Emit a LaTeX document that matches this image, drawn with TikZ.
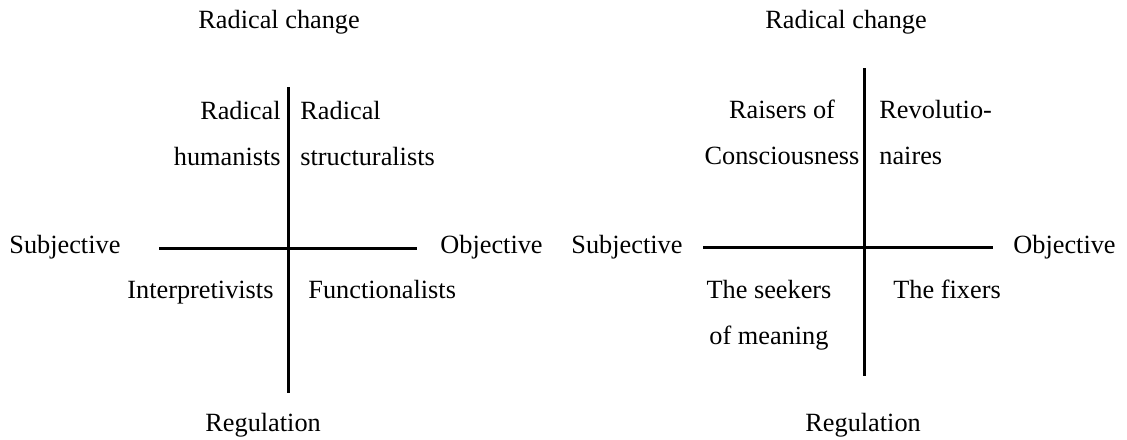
\documentclass[tikz,border=0pt]{standalone}
\usepackage{fontspec}
\setmainfont{Liberation Serif}
\usepackage{tikz}

\begin{document}
\begin{tikzpicture}[x=0.5pt, y=-0.5pt, font=\fontsize{13.15pt}{23pt}\selectfont,
 lbl/.style={inner sep=0pt}, bar/.style={line width=1.5pt}]
\useasboundingbox (0,0) rectangle (1127,439);
% left quadrant
\coordinate (l_top) at (288,87);
\coordinate (l_bot) at (288,393);
\coordinate (l_west) at (159,248);
\coordinate (l_east) at (417,248);
\draw[bar] (l_top) -- (l_bot);
\draw[bar] (l_west) -- (l_east);
\node[lbl, anchor=base west] (rc1) at (198,28) {Radical change};
\node[lbl, anchor=base west] (sub1) at (9,253) {Subjective};
\node[lbl, anchor=base west] (obj1) at (440,253) {Objective};
\node[lbl, anchor=base east] (rh) at (281,119) {\begin{tabular}[t]{@{}r@{}} Radical \\ humanists \end{tabular}};
\node[lbl, anchor=base west] (rs) at (300,119) {\begin{tabular}[t]{@{}l@{}} Radical \\ structuralists \end{tabular}};
\node[lbl, anchor=base west] (intp) at (127,298) {Interpretivists};
\node[lbl, anchor=base west] (func) at (308,298) {Functionalists};
\node[lbl, anchor=base west] (reg1) at (205,431) {Regulation};
% right quadrant
\coordinate (r_top) at (864,68);
\coordinate (r_bot) at (864,376);
\coordinate (r_west) at (703,247);
\coordinate (r_east) at (993,247);
\draw[bar] (r_top) -- (r_bot);
\draw[bar] (r_west) -- (r_east);
\node[lbl, anchor=base west] (rc2) at (765,28) {Radical change};
\node[lbl, anchor=base west] (sub2) at (571,253) {Subjective};
\node[lbl, anchor=base west] (obj2) at (1013,253) {Objective};
\node[lbl, anchor=base] (roc) at (782,118) {\begin{tabular}[t]{@{}c@{}} Raisers of \\ Consciousness \end{tabular}};
\node[lbl, anchor=base west] (rev) at (879,118) {\begin{tabular}[t]{@{}l@{}} Revolutio- \\ naires \end{tabular}};
\node[lbl, anchor=base] (seek) at (769,298) {\begin{tabular}[t]{@{}c@{}} The seekers \\ of meaning \end{tabular}};
\node[lbl, anchor=base west] (fix) at (893,298) {The fixers};
\node[lbl, anchor=base west] (reg2) at (805,431) {Regulation};
\end{tikzpicture}
\end{document}
